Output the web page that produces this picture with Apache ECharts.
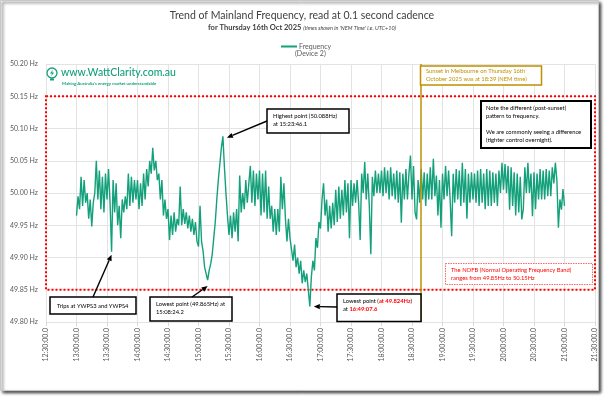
<!DOCTYPE html>
<html>
<head>
<meta charset="utf-8">
<script src="https://cdn.jsdelivr.net/npm/echarts@6/dist/echarts.min.js"></script>
<style>
  html, body { margin: 0; padding: 0; background: #fff; }
  #chart { width: 604px; height: 396px; }
</style>
</head>
<body>
<div id="chart"></div>
<script>
const seriesName = 'Frequency';
const startTime = '13:00';
const stepMinutes = 1.5;
const freqHz = [
  49.965, 49.995, 49.975, 50.025, 49.980, 50.020, 49.985, 50.000, 49.960, 49.990, 49.948, 49.985, 50.000, 50.050, 49.990, 50.035, 49.975, 50.025, 49.970, 50.030,
  49.990, 50.037, 49.985, 49.909, 50.020, 49.970, 50.015, 49.950, 49.980, 49.930, 49.990, 49.970, 49.995, 49.975, 50.030, 49.980, 50.025, 49.985, 50.020, 49.990,
  50.020, 49.975, 50.015, 49.980, 50.030, 49.990, 50.037, 50.010, 50.050, 50.030, 50.070, 50.035, 50.050, 50.020, 50.030, 49.990, 50.020, 49.965, 49.990, 49.960,
  49.975, 49.927, 49.965, 49.935, 49.970, 49.940, 49.960, 49.950, 50.010, 49.950, 49.975, 49.952, 49.970, 49.945, 49.965, 49.940, 49.960, 49.935, 49.955, 49.925,
  49.917, 49.980, 49.925, 49.910, 49.885, 49.875, 49.865, 49.880, 49.890, 49.905, 49.930, 49.955, 49.990, 50.020, 50.045, 50.070, 50.088, 50.040, 50.000, 49.965,
  49.935, 49.965, 49.930, 49.970, 49.940, 49.975, 49.925, 50.027, 49.970, 50.000, 49.975, 50.020, 49.985, 50.015, 50.042, 49.985, 50.035, 49.980, 50.030, 49.990,
  50.035, 49.965, 50.030, 49.970, 50.035, 49.960, 50.010, 49.960, 49.980, 49.940, 49.975, 49.935, 49.975, 49.940, 50.025, 49.975, 50.015, 49.960, 49.925, 49.960,
  49.930, 49.930, 49.895, 49.920, 49.885, 49.900, 49.875, 49.895, 49.860, 49.880, 49.862, 49.875, 49.850, 49.824, 49.870, 49.895, 49.880, 49.930, 49.915, 49.955,
  49.945, 49.990, 50.015, 49.965, 49.990, 49.940, 49.980, 49.945, 49.985, 49.950, 50.005, 49.955, 50.010, 49.960, 50.005, 49.965, 50.020, 49.970, 50.015, 49.930,
  50.020, 49.980, 50.015, 49.985, 50.020, 49.985, 49.927, 50.030, 50.000, 50.048, 49.990, 50.030, 49.980, 49.905, 50.025, 49.995, 50.035, 50.000, 50.030, 50.000,
  50.035, 49.995, 50.040, 50.000, 50.035, 49.990, 50.040, 49.995, 50.030, 49.990, 50.035, 49.985, 50.032, 49.954, 50.030, 49.990, 50.037, 49.990, 50.030, 50.058,
  49.990, 50.042, 49.970, 49.959, 50.020, 49.985, 50.037, 49.990, 50.032, 49.980, 50.030, 49.990, 50.040, 49.990, 50.053, 49.995, 50.027, 49.965, 50.020, 49.946,
  50.030, 49.990, 50.042, 49.995, 50.035, 49.990, 49.933, 50.030, 49.985, 50.037, 49.990, 50.035, 49.980, 50.047, 49.985, 50.037, 49.960, 50.030, 49.985, 50.032,
  49.990, 50.030, 49.985, 50.035, 49.980, 50.037, 49.985, 50.030, 49.975, 50.037, 49.980, 50.035, 49.980, 50.032, 49.985, 50.030, 49.980, 50.035, 50.000, 50.047,
  50.005, 50.045, 50.000, 50.042, 49.974, 50.040, 49.980, 50.032, 49.965, 50.030, 49.970, 50.025, 49.959, 49.975, 50.040, 50.000, 50.047, 50.000, 50.030, 49.964,
  50.032, 49.975, 50.030, 49.990, 50.037, 49.990, 50.035, 49.990, 50.037, 49.995, 50.035, 49.995, 50.040, 50.015, 50.047, 50.020, 49.946, 49.990, 49.974, 50.006,
  49.980
];

const axisStart = '12:30';
const axisEnd = '21:30';
const xStepMinutes = 30;
const yMin = 49.80;
const yMax = 50.20;
const yStep = 0.05;
const nofbBand = [49.85, 50.15];
const sunsetTime = '18:39';

// callouts: [time, Hz] of the point each arrow aims at
const tripPoint = ['13:34.5', 49.909];
const lowPoint1 = ['15:09', 49.865];
const highPoint = ['15:24', 50.088];
const lowPoint2 = ['16:49.5', 49.824];

const GREEN = '#13a07a';
const GOLD = '#bf9000';
const RED = '#ff0000';
const FONT = 'Lato';
const NOTE_SIZE = 5.8;

function toMin(s) {
  const [h, m] = s.split(':');
  return Number(h) * 60 + Number(m);
}
function fmtTime(v) {
  const h = Math.floor(v / 60), m = Math.round(v % 60);
  return String(h).padStart(2, '0') + ':' + String(m).padStart(2, '0') + ':00.0';
}

const t0 = toMin(startTime);
const lineData = freqHz.map((v, i) => [t0 + i * stepMinutes, v]);

const chart = echarts.init(document.getElementById('chart'), null, { renderer: 'canvas' });

chart.setOption({
  animation: false,
  backgroundColor: 'transparent',
  textStyle: { fontFamily: FONT },
  title: {
    text: 'Trend of Mainland Frequency, read at 0.1 second cadence',
    subtext: '{a|for Thursday 16th Oct 2025 }{b|(times shown in \'NEM Time\' i.e. UTC+10)}',
    left: 'center',
    top: 5,
    itemGap: 3,
    textStyle: { fontFamily: FONT, fontSize: 10.5, fontWeight: 'normal', color: '#404040' },
    subtextStyle: {
      rich: {
        a: { fontFamily: FONT, fontSize: 7.5, fontWeight: 'bold', color: '#404040' },
        b: { fontFamily: FONT, fontSize: 5.5, fontStyle: 'italic', color: '#404040' }
      }
    }
  },
  legend: {
    data: [seriesName],
    left: 276,
    top: 38,
    icon: 'rect',
    itemWidth: 16,
    itemHeight: 2,
    itemGap: 2,
    textStyle: { fontFamily: FONT, fontSize: 7, color: '#595959', padding: [0, 0, 0, -3] }
  },
  grid: { left: 46, right: 9, top: 64, bottom: 74 },
  xAxis: {
    type: 'value',
    min: toMin(axisStart),
    max: toMin(axisEnd),
    interval: xStepMinutes,
    axisLine: { show: false },
    axisTick: { show: true, length: 4, lineStyle: { color: '#d9d9d9' } },
    splitLine: { show: true, lineStyle: { color: '#e3e3e3', width: 1 } },
    axisLabel: {
      rotate: 90,
      margin: 6,
      fontFamily: FONT,
      fontSize: 7,
      color: '#595959',
      formatter: fmtTime
    }
  },
  yAxis: {
    type: 'value',
    min: yMin,
    max: yMax,
    interval: yStep,
    axisLine: { show: false },
    axisTick: { show: false },
    splitLine: { show: true, lineStyle: { color: '#e3e3e3', width: 1 } },
    axisLabel: {
      margin: 8,
      fontFamily: FONT,
      fontSize: 7,
      color: '#595959',
      formatter: v => v.toFixed(2) + ' Hz'
    }
  },
  series: [{
    name: seriesName,
    type: 'line',
    data: lineData,
    showSymbol: false,
    symbol: 'none',
    lineStyle: { color: GREEN, width: 1.4 },
    itemStyle: { color: GREEN },
    z: 3,
    markArea: {
      silent: true,
      itemStyle: { color: 'rgba(0,0,0,0)', borderColor: RED, borderWidth: 2, borderType: [2, 2] },
      data: [[
        { coord: [toMin(axisStart), nofbBand[1]] },
        { coord: [toMin(axisEnd), nofbBand[0]] }
      ]]
    },
    markLine: {
      silent: true,
      symbol: 'none',
      label: { show: false },
      lineStyle: { color: GOLD, width: 1.5, type: 'solid' },
      data: [{ xAxis: toMin(sunsetTime) }]
    }
  }]
});

// annotation layer (boxes and arrows), arrow tips placed from data via the axes
function px(p) {
  return chart.convertToPixel({ gridIndex: 0 }, [toMin(p[0]), p[1]]);
}
function arrow(x1, y1, x2, y2) {
  const dx = x2 - x1, dy = y2 - y1, len = Math.hypot(dx, dy);
  const ux = dx / len, uy = dy / len, L = 6, W = 2.6;
  const bx = x2 - ux * L, by = y2 - uy * L;
  return [
    { type: 'line', z: 20, shape: { x1, y1, x2: bx, y2: by }, style: { stroke: '#000', lineWidth: 1.4 } },
    { type: 'polygon', z: 20, shape: { points: [[x2, y2], [bx - uy * W, by + ux * W], [bx + uy * W, by - ux * W]] }, style: { fill: '#000' } }
  ];
}
function box(x, y, w, h, stroke, lw, dash) {
  return { type: 'rect', z: 20, shape: { x, y, width: w, height: h },
    style: { fill: '#fff', stroke, lineWidth: lw, lineDash: dash || null } };
}
function txt(x, y, text, fill, size, extra) {
  return { type: 'text', z: 21, x, y,
    style: Object.assign({ text, fill, font: (size || NOTE_SIZE) + 'px ' + FONT, lineHeight: 8, verticalAlign: 'top' }, extra || {}) };
}

const pTrip = px(tripPoint), pLow1 = px(lowPoint1), pHigh = px(highPoint), pLow2 = px(lowPoint2);

const g = [
  // picture frame with drop shadow
  { type: 'rect', z: -10, shape: { x: 0.5, y: 0.5, width: 598, height: 390 },
    style: { fill: '#fff', stroke: '#c8c8c8', lineWidth: 1, shadowBlur: 3, shadowOffsetX: 2, shadowOffsetY: 2, shadowColor: 'rgba(0,0,0,0.75)' } },
  // legend second line
  txt(295, 49.5, '(Device 2)', '#595959', 7),
  // logo
  { type: 'circle', z: 20, shape: { cx: 52, cy: 73, r: 5 }, style: { fill: 'none', stroke: GREEN, lineWidth: 1.3 } },
  { type: 'polygon', z: 20, shape: { points: [[53, 69.5], [50, 73.5], [52, 73.5], [51, 76.5], [54, 72.5], [52, 72.5]] }, style: { fill: GREEN } },
  { type: 'rect', z: 20, shape: { x: 50, y: 78.5, width: 4, height: 2 }, style: { fill: GREEN } },
  txt(61, 68.5, 'www.WattClarity.com.au', GREEN, 10.5, { font: '500 10.5px ' + FONT }),
  txt(62, 80, 'Making Australia\'s energy market understandable', GREEN, 4.3, { font: 'bold 4.3px ' + FONT }),
  // sunset box
  box(420.5, 66, 121, 19, GOLD, 1.5),
  txt(426, 67.5, 'Sunset in Melbourne on Thursday 16th\nOctober 2025 was at 18:39 (NEM time)', GOLD),
  // note box
  box(481, 101, 110, 47, '#000', 2),
  txt(486, 104, 'Note the different (post-sunset)\npattern to frequency.\n\nWe are commonly seeing a difference\n(tighter control overnight).', '#000'),
  // NOFB box
  box(445.5, 263.5, 147, 21, '#ff6666', 1, [1.5, 1]),
  txt(451, 266.5, 'The NOFB (Normal Operating Frequency Band)\nranges from 49.85Hz to 50.15Hz', RED),
  // trips callout
  box(50, 297, 86, 17, '#000', 1.5),
  txt(57, 302, 'Trips at YWPS3 and YWPS4', '#000'),
  ...arrow(93, 297, pTrip[0], pTrip[1] + 3),
  // lowest point 1
  box(150, 297, 82, 24, '#000', 1.5),
  txt(156, 300, 'Lowest point (49.865Hz) at\n15:08:24.2', '#000'),
  ...arrow(192, 297, pLow1[0], pLow1[1] + 6),
  // highest point
  box(267, 109, 82, 24, '#000', 1.5),
  txt(273, 112.5, 'Highest point (50.088Hz)\nat 15:23:46.1', '#000'),
  ...arrow(267, 121, pHigh[0] + 4, pHigh[1] + 1.5),
  // lowest point 2
  box(337, 294, 84, 27.5, '#000', 1.5),
  { type: 'text', z: 21, x: 343, y: 297,
    style: { text: '{k|Lowest point (}{r|at 49.824Hz}{k|)}\n{k|at }{r|16:49:07.6}', verticalAlign: 'top',
      rich: {
        k: { fill: '#000', font: NOTE_SIZE + 'px ' + FONT, lineHeight: 8 },
        r: { fill: RED, font: 'bold ' + NOTE_SIZE + 'px ' + FONT, lineHeight: 8 }
      } } },
  ...arrow(337, 307, pLow2[0] + 4, pLow2[1])
];

chart.setOption({ graphic: { elements: g } });
</script>
</body>
</html>
